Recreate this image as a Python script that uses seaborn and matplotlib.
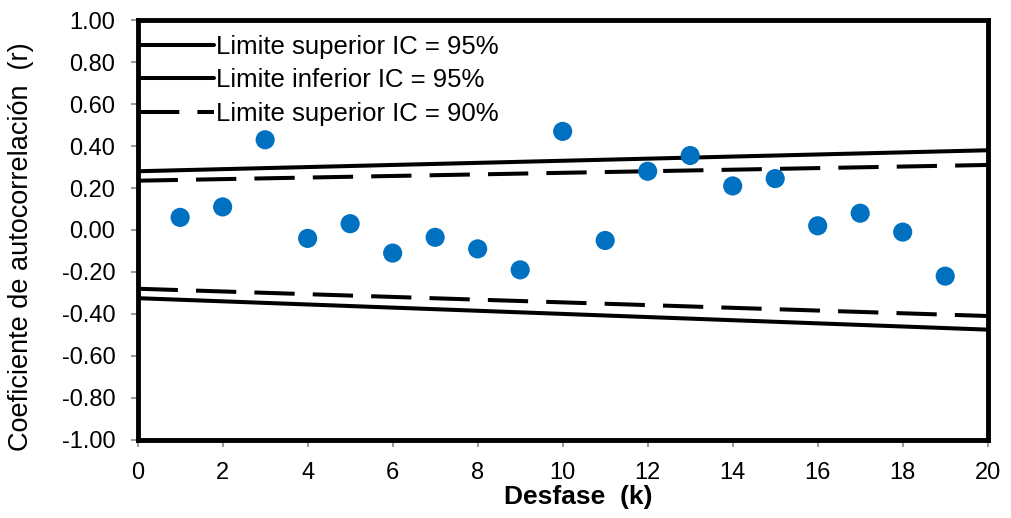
import numpy as np
import pandas as pd
import seaborn as sns
import matplotlib.pyplot as plt

# Autocorrelation values per lag
lags = list(range(1, 20))
r_values = [0.06, 0.11, 0.43, -0.04, 0.03, -0.11, -0.035, -0.09, -0.19, 0.47,
            -0.05, 0.28, 0.355, 0.21, 0.245, 0.02, 0.08, -0.01, -0.22]

# Confidence limits (values at k=0 and k=20)
k_lim = [0, 20]
sup_95 = [0.28, 0.38]
inf_95 = [-0.325, -0.475]
sup_90 = [0.235, 0.31]
inf_90 = [-0.28, -0.41]

y_ticks = [-1.0, -0.8, -0.6, -0.4, -0.2, 0.0, 0.2, 0.4, 0.6, 0.8, 1.0]
y_labels = ["-1.00", "-0.80", "-0.60", "-0.40", "-0.20", "0.00",
            "0.20", "0.40", "0.60", "0.80", "1.00"]

sns.set_style("white")
plt.rcParams['font.family'] = ['Liberation Sans', 'DejaVu Sans']
plt.rcParams['text.color'] = 'black'
plt.rcParams['axes.labelcolor'] = 'black'
plt.rcParams['xtick.labelcolor'] = 'black'
plt.rcParams['ytick.labelcolor'] = 'black'

fig = plt.figure(figsize=(10.12, 5.18), dpi=100)
ax = fig.add_axes([0.136, 0.151, 0.84, 0.81])

sns.lineplot(x=k_lim, y=sup_95, ax=ax, color="black", lw=2.9, label="Limite superior IC = 95%")
sns.lineplot(x=k_lim, y=inf_95, ax=ax, color="black", lw=2.9, label="Limite inferior IC = 95%")
sns.lineplot(x=k_lim, y=sup_90, ax=ax, color="black", lw=2.9, label="Limite superior IC = 90%")
ax.lines[-1].set_dashes((10, 4.5))
sns.lineplot(x=k_lim, y=inf_90, ax=ax, color="black", lw=2.9)
ax.lines[-1].set_dashes((10, 4.5))

sns.scatterplot(x=lags, y=r_values, ax=ax, color="#0070C0", s=190, edgecolor="none", zorder=3)

ax.set_xlim(0, 20)
ax.set_ylim(-1, 1)
ax.set_xticks(range(0, 21, 2))
ax.set_yticks(y_ticks)
ax.set_yticklabels(y_labels)
ax.tick_params(axis="both", labelsize=17, direction="out", length=5, width=1.2,
               color="#888888", labelcolor="black", left=True, bottom=True)
ax.tick_params(axis="y", pad=11)
ax.tick_params(axis="x", pad=11)
for sp in ax.spines.values():
    sp.set_color("black")
    sp.set_linewidth(3.5)

ax.set_xlabel("Desfase  (k)", fontsize=19, fontweight="bold", color="black")
ax.xaxis.set_label_coords(0.518, -0.107)
ax.set_ylabel("Coeficiente de autocorrelación  (r)", fontsize=19.5, color="black")
ax.yaxis.set_label_coords(-0.122, 0.46)

leg = ax.legend(loc="upper left", bbox_to_anchor=(-0.004, 0.978), frameon=False,
                fontsize=18.5, handlelength=2.9, handletextpad=0.1, labelspacing=0.38,
                borderaxespad=0, borderpad=0.2)
for t in leg.get_texts():
    t.set_color("black")

fig.savefig("out.png", dpi=100)
